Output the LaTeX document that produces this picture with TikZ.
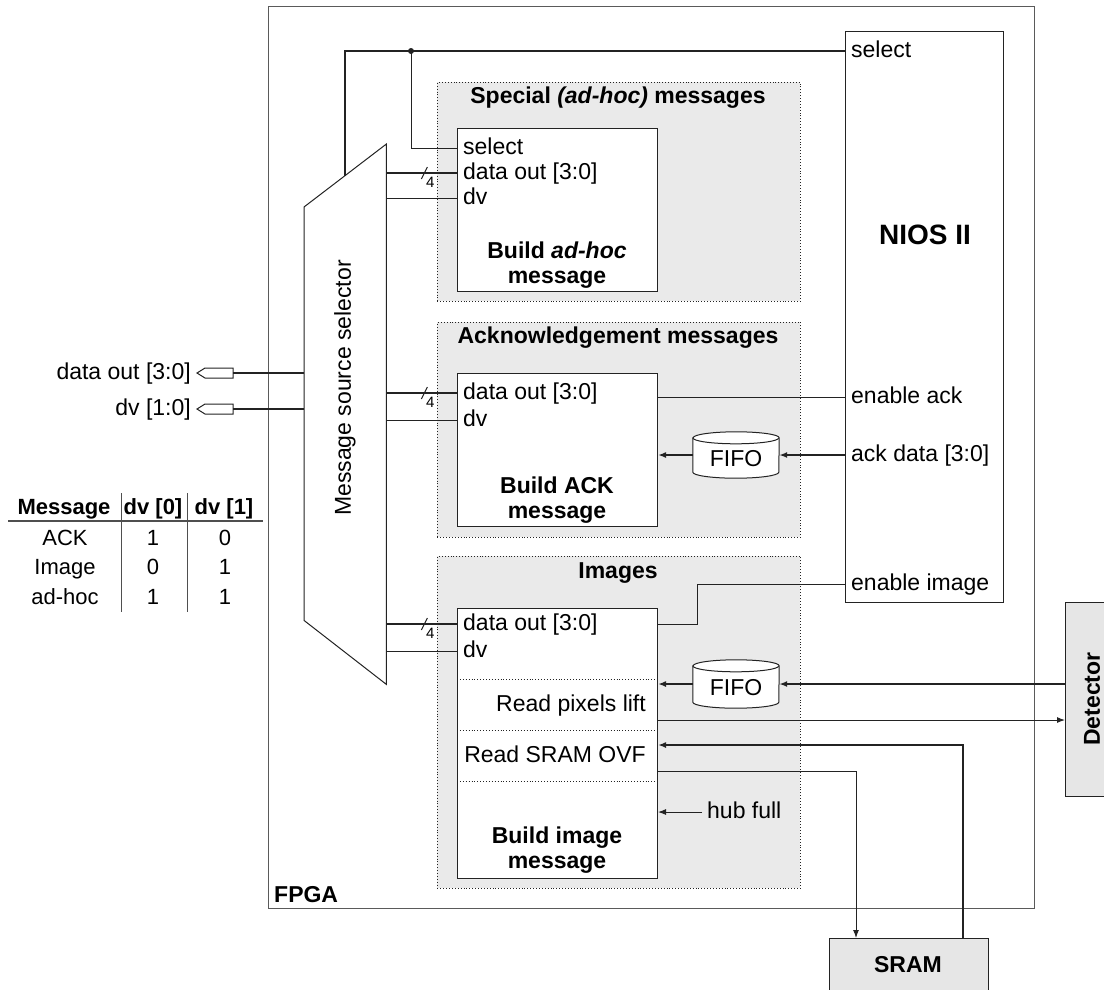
\documentclass[tikz,border=0pt]{standalone}
\usepackage{fontspec}
\setmainfont{Liberation Sans}
\setsansfont{Liberation Sans}
\usetikzlibrary{arrows.meta,calc}
\definecolor{secfill}{RGB}{234,234,234}
\definecolor{boxfill}{RGB}{230,230,230}
\definecolor{ln}{RGB}{35,35,35}
\newcommand\myfs{\fontsize{23}{25.5}\selectfont}
\newcommand\tabfs{\fontsize{22}{24}\selectfont}
\begin{document}
\begin{tikzpicture}[x=1pt,y=-1pt,
  lbl/.style={font=\myfs, inner sep=0pt, text height=16pt, text depth=4pt},
  ttl/.style={font=\myfs\bfseries, inner sep=0pt, align=center},
  tcell/.style={font=\tabfs, inner sep=0pt, text height=16pt, text depth=4pt},
  blk/.style={draw=ln, line width=1pt, fill=white, inner sep=0pt, anchor=north west},
  sect/.style={draw=ln, dotted, line width=0.9pt, fill=secfill, inner sep=0pt, anchor=north west},
  wire/.style={draw=ln, line width=1pt},
  bus/.style={draw=ln, line width=2pt},
  tip/.style={-{Latex[length=8pt,width=6pt]}},
  cyl/.style={draw=ln, line width=1pt, fill=white}
]
\useasboundingbox (0,0) rectangle (1104,989);

% FPGA
\node[draw=ln!75, line width=1.3pt, minimum width=766pt, minimum height=902pt, inner sep=0pt, anchor=north west] (fpga) at (268,6) {};
\node[font=\myfs\bfseries, anchor=base west, inner sep=0pt] (fpgalbl) at (274,902) {FPGA};

% sections
\node[sect, minimum width=363pt, minimum height=219pt] (secA) at (437,82) {};
\node[sect, minimum width=363pt, minimum height=215pt] (secB) at (437,322) {};
\node[sect, minimum width=363pt, minimum height=332pt] (secC) at (437,556) {};
\node[ttl] (tA) at (618,98) {Special \textit{(ad-hoc)} messages};
\node[ttl] (tB) at (618,338) {Acknowledgement messages};
\node[ttl] (tC) at (618,573) {Images};

% blocks
\node[blk, minimum width=200pt, minimum height=163pt] (bA) at (457,128) {};
\node[blk, minimum width=200pt, minimum height=153pt] (bB) at (457,373) {};
\node[blk, minimum width=200pt, minimum height=270pt] (bC) at (457,608) {};
\node[ttl] (bAt) at (557,265) {Build \textit{ad-hoc}\\message};
\node[ttl] (bBt) at (557,500) {Build ACK\\message};
\node[ttl] (bCt) at (557,850) {Build image\\message};

\foreach \d in {71,122,173}
  \draw[ln, dotted, line width=0.9pt] ($(bC.north west)+(0,\d)$) -- ($(bC.north east)+(0,\d)$);

% port labels
\node[lbl, anchor=west] (aSel) at (463,148) {select};
\node[lbl, anchor=west] (aDat) at (463,173) {data out [3:0]};
\node[lbl, anchor=west] (aDv) at (463,198) {dv};
\node[lbl, anchor=west] (bDat) at (463,393) {data out [3:0]};
\node[lbl, anchor=west] (bDv) at (463,420) {dv};
\node[lbl, anchor=west] (cDat) at (463,624) {data out [3:0]};
\node[lbl, anchor=west] (cDv) at (463,651) {dv};
\node[lbl, anchor=east] (cPix) at (646,705) {Read pixels lift};
\node[lbl, anchor=east] (cOvf) at (646,756) {Read SRAM OVF};

% NIOS
\node[blk, minimum width=158pt, minimum height=571pt] (nios) at (845,31) {};
\node[font=\fontsize{28}{30}\selectfont\bfseries, inner sep=0pt] (niosT) at (925,235) {NIOS II};
\node[lbl, anchor=west] (nSel) at (851,51) {select};
\node[lbl, anchor=west] (nAck) at (851,397) {enable ack};
\node[lbl, anchor=west] (nAd) at (851,455) {ack data [3:0]};
\node[lbl, anchor=west] (nImg) at (851,584) {enable image};

% mux
\node[inner sep=0pt, minimum width=82pt, minimum height=540pt, anchor=north west] (mux) at (304,144) {};
\draw[ln, line width=1pt, fill=white] (mux.north east) -- (mux.south east) -- ($(mux.south west)+(0,-64)$) -- ($(mux.north west)+(0,63)$) -- cycle;
\node[font=\myfs, rotate=90, inner sep=0pt] (muxT) at (345,388) {Message source selector};

% FIFOs
\node[inner sep=0pt, minimum width=86pt, minimum height=46pt] (fB) at (736,455) {};
\node[inner sep=0pt, minimum width=86pt, minimum height=48pt] (fC) at (736,684) {};
\foreach \f in {fB,fC}{
  \draw[cyl] ($(\f.north west)+(0,6)$) -- ($(\f.south west)+(0,-6)$) arc[start angle=180,end angle=360,x radius=43pt,y radius=6pt] -- ($(\f.north east)+(0,6)$) arc[start angle=0,end angle=180,x radius=43pt,y radius=6pt] -- cycle;
  \draw[ln, line width=1pt] ($(\f.north west)+(0,6)$) arc[start angle=180,end angle=360,x radius=43pt,y radius=6pt];
}
\node[font=\myfs, inner sep=0pt] (fBt) at (736,459) {FIFO};
\node[font=\myfs, inner sep=0pt] (fCt) at (736,688) {FIFO};

% Detector and SRAM
\node[draw=ln, line width=1pt, fill=boxfill, minimum width=50pt, minimum height=194pt, anchor=north west, inner sep=0pt] (det) at (1065,602) {};
\node[font=\myfs\bfseries, rotate=90, inner sep=0pt] (detT) at (1092,699) {Detector};
\node[draw=ln, line width=1pt, fill=boxfill, minimum width=159pt, minimum height=60pt, anchor=north west, inner sep=0pt] (sram) at (829,938) {};
\node[font=\myfs\bfseries, inner sep=0pt] (sramT) at (908,965) {SRAM};

% select wire
\coordinate (selTop) at (345,51);
\coordinate (selEnd) at (345,175.5);
\coordinate (jn) at (411,51);
\draw[bus] (nios.west |- nSel) -- (selTop) -- (selEnd);
\fill[ln] (jn) circle[radius=3pt];
\draw[wire] (jn) |- (bA.west |- aSel);

% mux to blocks
\draw[bus] (mux.east |- aDat) -- (bA.west |- aDat);
\draw[wire] (mux.east |- aDv) -- (bA.west |- aDv);
\draw[bus] (mux.east |- bDat) -- (bB.west |- bDat);
\draw[wire] (mux.east |- bDv) -- (bB.west |- bDv);
\draw[bus] (mux.east |- cDat) -- (bC.west |- cDat);
\draw[wire] (mux.east |- cDv) -- (bC.west |- cDv);
\foreach \n in {aDat,bDat,cDat}{
  \draw[wire] ($(mux.east |- \n)+(35,6)$) -- ++(6,-12);
  \node[font=\fontsize{15}{15}\selectfont, inner sep=0pt] (\n-w) at ($(mux.east |- \n)+(44,9)$) {4};
}

% outputs
\coordinate (pD) at (233,373);
\coordinate (pV) at (233,409);
\foreach \p in {pD,pV}{
  \draw[ln, line width=1pt, fill=white] (\p) ++(0,-5) -- ++(-28,0) -- ++(-8,5) -- ++(8,5) -- ++(28,0) -- cycle;
  \draw[ln, line width=1.7pt] (\p) -- (mux.west |- \p);
}
\node[lbl, anchor=east] (lD) at (191,373) {data out [3:0]};
\node[lbl, anchor=east] (lV) at (191,409) {dv [1:0]};

% ACK wires
\draw[wire] (bB.east |- nAck) -- (nios.west |- nAck);
\draw[bus, tip] (nios.west |- nAd) -- (fB.east);
\draw[bus, tip] (fB.west) -- (bB.east |- fB.west);

% Image wires
\coordinate (eiX) at (697,600);
\draw[wire] (bC.east |- cDat) -- (cDat -| eiX) -- (eiX |- nImg) -- (nios.west |- nImg);
\draw[bus, tip] (det.west |- fC.east) -- (fC.east);
\draw[bus, tip] (fC.west) -- (bC.east |- fC.west);
\coordinate (pixOut) at (657,720);
\draw[wire, tip] (pixOut) -- (det.west |- pixOut);
\coordinate (sIn) at (963,745);
\draw[bus, tip] (sram.north -| sIn) -- (sIn) -- (bC.east |- sIn);
\coordinate (sOut) at (856,771);
\draw[wire, tip] (bC.east |- sOut) -- (sOut) -- (sram.north -| sOut);
\node[lbl, anchor=west] (hub) at (707,812) {hub full};
\draw[wire, tip] ($(hub.west)+(-5,0)$) -- (bC.east |- hub.west);

% table
\node[tcell, font=\tabfs\bfseries] (th1) at (64,508) {Message};
\node[tcell, font=\tabfs\bfseries] (th2) at (153,508) {dv [0]};
\node[tcell, font=\tabfs\bfseries] (th3) at (224,508) {dv [1]};
\foreach \y/\a/\b/\c [count=\i] in {539/ACK/1/0, 568/Image/0/1, 598/ad-hoc/1/1}{
  \node[tcell] (r\i a) at (65,\y) {\a};
  \node[tcell] (r\i b) at (153,\y) {\b};
  \node[tcell] (r\i c) at (225,\y) {\c};
}
\draw[ln!80, line width=1.5pt] (8,521) -- (263,521);
\draw[ln!80, line width=1pt] (121,493) -- (121,612);
\draw[ln!80, line width=1pt] (187,493) -- (187,612);
\end{tikzpicture}
\end{document}
